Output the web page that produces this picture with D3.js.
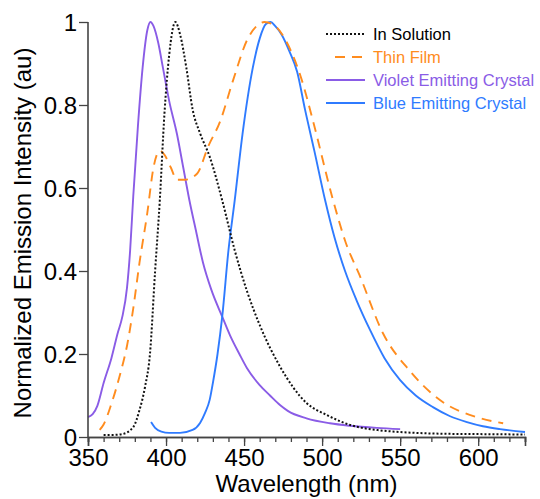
<!DOCTYPE html>
<html>
<head>
<meta charset="utf-8">
<script src="https://cdn.jsdelivr.net/npm/d3@7"></script>
<style>
  body { margin: 0; background: #fff; }
  svg { display: block; font-family: "Liberation Sans", Arial, sans-serif; }
</style>
</head>
<body>
<div class="emission-chart"></div>
<script>
// Emission spectra (wavelength in nm, normalized intensity)
var solutionNm  = [360, 366, 372, 379, 383, 386.5, 389.7, 393, 396, 399, 402, 406, 409, 413, 417, 422, 428, 436, 444, 452, 460, 473, 490, 503, 518, 537, 550, 575, 600, 630];
var solutionVal = [0.005, 0.005, 0.007, 0.024, 0.065, 0.12, 0.2, 0.4, 0.57, 0.78, 0.92, 1.0, 0.97, 0.89, 0.79, 0.73, 0.675, 0.57, 0.45, 0.35, 0.27, 0.17, 0.082, 0.053, 0.029, 0.016, 0.012, 0.008, 0.007, 0.006];

var filmNm  = [357.5, 360, 365, 370.5, 375, 379, 383, 388, 392, 396, 399, 403, 407, 412, 420, 427, 434.6, 443, 452, 458, 463, 470, 477.5, 487, 494, 507, 515, 524, 539, 556, 575.5, 599, 616];
var filmVal = [0.017, 0.03, 0.08, 0.15, 0.22, 0.31, 0.42, 0.54, 0.65, 0.69, 0.68, 0.65, 0.62, 0.62, 0.635, 0.70, 0.76, 0.86, 0.957, 0.99, 1.0, 0.99, 0.95, 0.86, 0.764, 0.571, 0.47, 0.39, 0.25, 0.16, 0.089, 0.048, 0.033];

var violetNm  = [350, 353, 356, 360, 365, 369, 372, 375, 377, 379, 382, 385, 388, 390, 392, 395, 398, 402, 407, 411, 415, 419, 423.7, 429, 436, 441, 447, 452, 460, 466.6, 473, 478, 490, 505, 518, 535, 550];
var violetVal = [0.048, 0.055, 0.075, 0.13, 0.19, 0.25, 0.29, 0.36, 0.45, 0.58, 0.75, 0.89, 0.98, 1.0, 0.99, 0.95, 0.89, 0.81, 0.73, 0.65, 0.57, 0.50, 0.42, 0.355, 0.29, 0.245, 0.2, 0.165, 0.125, 0.1, 0.077, 0.063, 0.045, 0.033, 0.027, 0.022, 0.019];

var blueNm  = [390.4, 393, 397, 402, 409, 417, 421.8, 425, 428, 430, 433, 436, 440, 444, 449, 455.6, 460, 464, 467, 470, 474, 479, 484, 489, 495, 501.9, 508, 514.7, 522, 530.7, 540, 550, 560, 571, 582, 592.8, 603, 614, 630];
var blueVal = [0.036, 0.022, 0.013, 0.01, 0.01, 0.017, 0.034, 0.058, 0.09, 0.13, 0.2, 0.29, 0.45, 0.57, 0.73, 0.89, 0.96, 0.995, 1.0, 0.99, 0.97, 0.93, 0.88, 0.79, 0.69, 0.571, 0.48, 0.40, 0.33, 0.258, 0.19, 0.137, 0.1, 0.072, 0.05, 0.036, 0.026, 0.019, 0.012];

var seriesNames = ["In Solution", "Thin Film", "Violet Emitting Crystal", "Blue Emitting Crystal"];
var seriesColors = ["#111111", "#ff8c1e", "#8a5ce6", "#2f7bff"];
var seriesDash = ["2,2", "10,7", null, null];

var xTicks = [350, 400, 450, 500, 550, 600];
var xMinorTicks = d3.range(350, 631, 10);
var yTicks = [0, 0.2, 0.4, 0.6, 0.8, 1];

var width = 540;
var height = 499;
// plot box edges ("top" is taken by window.top, so prefix them)
var plotLeft = 88, plotRight = 525, plotTop = 22, plotBottom = 437;

var svg = d3.select(".emission-chart")
            .append("svg")
              .attr("width", width)
              .attr("height", height);

var xScale = d3.scaleLinear()
               .domain([350, 630])
               .range([plotLeft, plotRight]);

var yScale = d3.scaleLinear()
               .domain([0, 1])
               .range([plotBottom, plotTop]);

// pair each wavelength array with its intensity array
var series = [
  d3.zip(solutionNm, solutionVal),
  d3.zip(filmNm, filmVal),
  d3.zip(violetNm, violetVal),
  d3.zip(blueNm, blueVal)
];

var line = d3.line()
             .x(function(d) { return xScale(d[0]); })
             .y(function(d) { return yScale(d[1]); })
             .curve(d3.curveMonotoneX);

// Draw order: violet and blue under the dashed/dotted ones
var drawOrder = [2, 3, 1, 0];
svg.selectAll("path.spectrum")
  .data(drawOrder)
  .enter()
  .append("path")
  .attr("class", "spectrum")
  .attr("d", function(i) { return line(series[i]); })
  .attr("fill", "none")
  .attr("stroke", function(i) { return seriesColors[i]; })
  .attr("stroke-width", function(i) { return i == 0 ? 2 : 1.9; })
  .attr("stroke-dasharray", function(i) { return seriesDash[i]; });

// Axes
var axisColor = "#444";

var xAxis = d3.axisBottom(xScale)
              .tickValues(xTicks)
              .tickSize(9)
              .tickPadding(3)
              .tickFormat(d3.format("d"));

var xMinor = d3.axisBottom(xScale)
               .tickValues(xMinorTicks)
               .tickSize(5)
               .tickFormat("");

var yAxis = d3.axisLeft(yScale)
              .tickValues(yTicks)
              .tickSize(9)
              .tickPadding(2)
              .tickFormat(function(d) { return d == 0 || d == 1 ? d : d3.format(".1f")(d); });

var gxMinor = svg.append("g")
  .attr("transform", "translate(0," + plotBottom + ")")
  .call(xMinor);

var gx = svg.append("g")
  .attr("transform", "translate(0," + plotBottom + ")")
  .call(xAxis);

var gy = svg.append("g")
  .attr("transform", "translate(" + plotLeft + ",0)")
  .call(yAxis);

[gxMinor, gx, gy].forEach(function(g) {
  g.select(".domain").attr("stroke", axisColor).attr("stroke-width", 1.6);
  g.selectAll(".tick line").attr("stroke", axisColor).attr("stroke-width", 1.3);
  g.selectAll(".tick text")
    .attr("fill", "#000")
    .attr("font-size", "24px")
    .attr("font-family", "Liberation Sans, Arial, sans-serif");
});
gy.select(".domain").attr("d", "M0," + plotBottom + "V" + plotTop);
gy.selectAll(".tick text").attr("dy", "0.36em");

// Axis titles
svg.append("text")
  .text("Wavelength (nm)")
  .attr("x", (plotLeft + plotRight) / 2)
  .attr("y", 492)
  .attr("text-anchor", "middle")
  .attr("font-size", "24px");

svg.append("text")
  .text("Normalized Emission Intensity (au)")
  .attr("transform", "translate(31,233) rotate(-90)")
  .attr("text-anchor", "middle")
  .attr("font-size", "24px");

// Legend
var legend = svg.selectAll("g.legend")
  .data(seriesNames)
  .enter()
  .append("g")
  .attr("class", "legend")
  .attr("transform", function(d, i) { return "translate(326," + (34 + i * 23) + ")"; });

legend.append("line")
  .attr("x1", function(d, i) { return i == 1 ? 9 : 0; })
  .attr("x2", 39)
  .attr("stroke", function(d, i) { return seriesColors[i]; })
  .attr("stroke-width", 1.8)
  .attr("stroke-dasharray", function(d, i) { return seriesDash[i]; });

legend.append("text")
  .text(function(d) { return d; })
  .attr("x", 47)
  .attr("dy", "0.36em")
  .attr("fill", function(d, i) { return i == 0 ? "#000" : seriesColors[i]; })
  .attr("font-size", "16.5px");
</script>
</body>
</html>
